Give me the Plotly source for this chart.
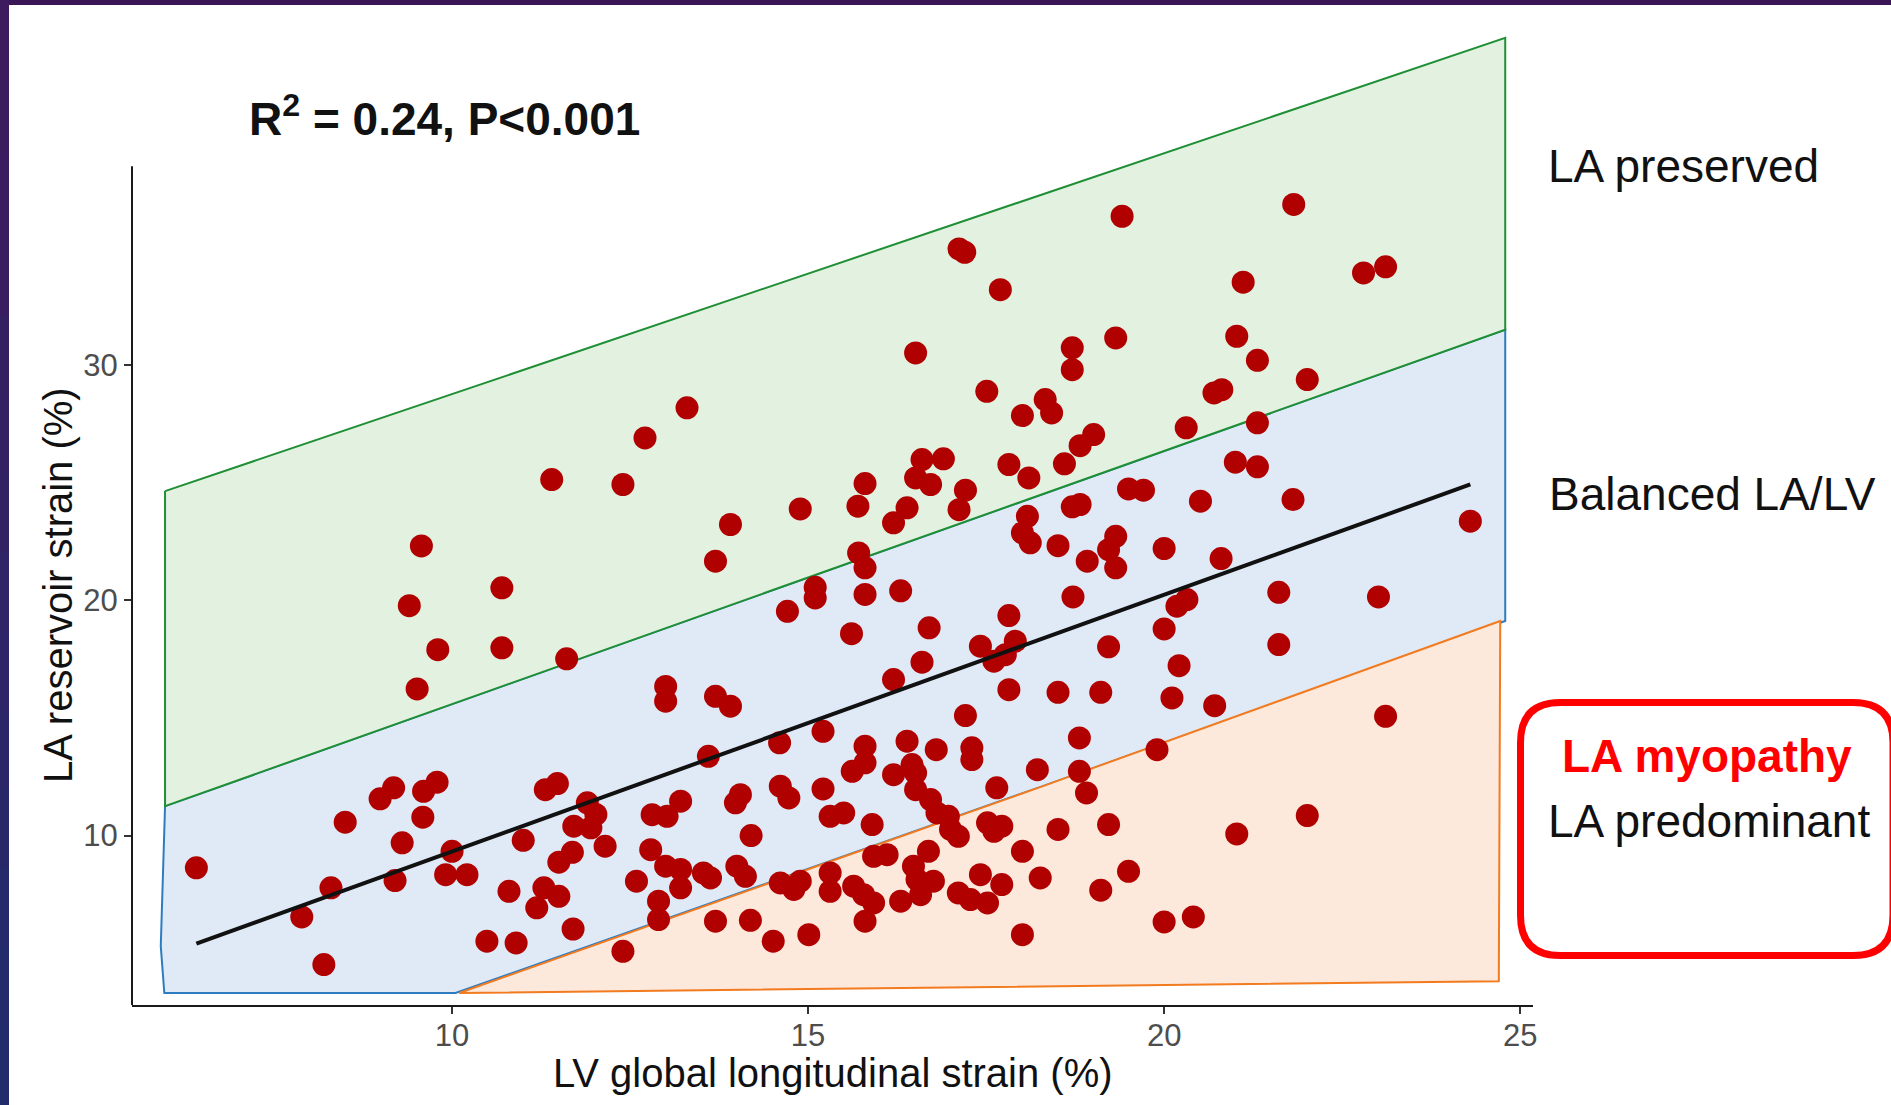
import plotly.graph_objects as go

# ---- data: LV global longitudinal strain (%) vs LA reservoir strain (%) ----
lv_gls = [
    17.12, 17.20, 17.70, 16.51, 17.51, 18.01, 13.30, 12.71, 12.40, 13.91,
    13.70, 14.89, 15.80, 15.70, 16.60, 16.90, 16.51, 16.72, 17.21, 17.12,
    16.39, 16.20, 17.82, 18.10, 18.08, 18.01, 18.12, 15.71, 15.80,
    19.41, 21.82, 22.80, 23.11, 21.11, 19.32, 18.71, 18.71, 21.02, 21.31,
    22.01, 20.70, 20.81, 18.33, 18.42, 21.31, 20.31, 19.01, 18.82, 18.60,
    21.00, 21.31, 19.50, 19.71, 18.71, 18.82, 20.51, 21.81, 24.30, 18.51,
    18.92, 19.32, 19.22, 19.32, 20.00, 20.80,
    9.57, 11.40,
    9.40, 10.70, 9.80, 10.70, 11.61, 9.51, 8.99, 9.18, 9.60, 9.79,
    11.31, 11.48, 8.50, 9.59, 9.30, 11.90, 12.02, 11.71, 11.95, 12.15,
    6.41, 10.00, 9.91, 10.21, 9.20, 8.30, 11.00, 11.50, 11.69, 10.80,
    11.29, 11.50, 11.19, 7.89, 10.49, 10.90, 11.70, 8.20,
    15.10, 15.10, 15.80, 16.30, 14.71, 15.61, 16.70, 17.82, 17.42, 17.61,
    17.77, 17.91, 16.60, 16.20, 17.82, 13.00, 13.00, 13.70, 13.91, 17.21,
    15.21, 14.60, 13.60, 15.80, 15.80, 15.62, 16.39, 16.80, 17.30, 17.30,
    16.20, 16.46, 16.51, 16.51, 16.72, 16.81, 18.22, 17.65, 14.05, 13.98,
    14.61, 14.73, 15.21, 15.31, 15.50, 15.90, 13.21, 13.02, 12.81, 14.20,
    12.79, 13.00, 13.21, 13.21, 13.53, 13.63, 14.00, 14.12, 12.59, 12.90,
    12.90, 13.70, 14.19, 14.51, 15.01, 12.40, 14.61, 14.80, 14.89, 15.31,
    15.31, 15.64, 15.78, 15.92, 15.80, 15.92, 16.11, 16.69, 16.48, 16.53,
    16.76, 16.58, 16.30, 17.00, 17.11, 16.97, 17.52, 17.61, 17.72, 18.01,
    17.11, 17.28, 17.42, 17.52, 17.72, 18.01,
    18.72, 20.18, 20.32, 21.61, 23.01, 20.00, 19.22, 21.61, 20.21, 18.51,
    19.11, 20.11, 20.71, 18.81, 19.90, 23.11, 18.81, 18.91, 18.51, 19.22,
    22.01, 21.02, 18.26, 19.50, 19.11, 20.00, 20.41,
]
la_reservoir = [
    34.93, 34.79, 33.20, 30.51, 28.88, 27.85, 28.18, 26.90, 24.92, 23.22,
    21.66, 23.88, 24.96, 24.00, 25.98, 26.01, 25.20, 24.92, 24.68, 23.85,
    23.93, 23.29, 25.77, 25.20, 23.57, 22.86, 22.44, 22.01, 21.38,
    36.32, 36.82, 33.91, 34.17, 33.52, 31.15, 30.73, 29.80, 31.22, 30.20,
    29.38, 28.81, 28.95, 28.53, 27.96, 27.54, 27.33, 27.04, 26.57, 25.80,
    25.87, 25.67, 24.73, 24.68, 23.97, 24.07, 24.21, 24.28, 23.36, 22.32,
    21.66, 22.72, 22.15, 21.38, 22.20, 21.77,
    22.31, 25.13,
    19.77, 20.53, 17.90, 17.98, 17.51, 16.23, 11.56, 12.03, 11.88, 12.27,
    11.95, 12.21, 10.57, 10.78, 9.69, 11.39, 10.90, 10.40, 10.33, 9.55,
    8.63, 9.33, 8.34, 8.34, 8.09, 7.78, 9.80, 8.87, 9.29, 7.63,
    7.78, 7.42, 6.93, 6.54, 5.51, 5.44, 6.03, 4.52,
    20.55, 20.10, 20.25, 20.40, 19.53, 18.58, 18.83, 19.35, 18.05, 17.41,
    17.69, 18.26, 17.37, 16.63, 16.20, 16.34, 15.71, 15.92, 15.50, 15.10,
    14.43, 13.94, 13.37, 13.80, 13.09, 12.73, 14.01, 13.65, 13.73, 13.23,
    12.59, 13.02, 12.66, 11.95, 11.53, 10.96, 12.80, 12.03, 11.74, 11.39,
    12.10, 11.60, 11.98, 10.82, 10.96, 10.47, 11.46, 10.82, 10.89, 10.00,
    9.40, 8.70, 8.56, 7.78, 8.41, 8.20, 8.70, 8.27, 8.06, 7.21,
    6.43, 6.36, 6.40, 5.51, 5.79, 5.08, 7.99, 7.71, 8.06, 8.41,
    7.63, 7.85, 7.49, 7.14, 6.36, 9.12, 9.19, 9.33, 8.70, 8.13,
    8.06, 7.49, 7.21, 10.26, 9.97, 10.82, 10.54, 10.18, 10.40, 9.33,
    7.56, 7.28, 8.34, 7.14, 7.92, 5.79,
    20.14, 19.75, 20.03, 20.34, 20.14, 18.78, 18.02, 18.12, 17.22, 16.09,
    16.09, 15.85, 15.52, 14.15, 13.65, 15.07, 12.73, 11.81, 10.26, 10.47,
    10.85, 10.07, 8.20, 8.48, 7.68, 6.33, 6.54,
]

# linear fit LA = a + b * LV
fit_intercept = -1.58
fit_slope = 1.0906

# phenotype bands (polygon vertices in data units)
preserved_x = [5.97, 24.79, 24.79, 5.97]
preserved_y = [24.64, 43.90, 31.50, 11.25]
balanced_x = [5.97, 24.79, 24.79, 18.26, 10.05, 5.96, 5.91]
balanced_y = [11.25, 31.50, 19.12, 12.06, 3.31, 3.31, 5.30]
la_dom_x = [10.10, 18.26, 24.72, 24.70]
la_dom_y = [3.31, 12.06, 19.12, 3.81]

x_ticks = [10, 15, 20, 25]
y_ticks = [10, 20, 30]

# ---- page geometry (pixels) ----
W_PAGE, H_PAGE = 1891, 1105
PL, PR, PT, PB = 132, 1533, 0, 1005
x_range = [5.506, 25.18]
y_range = [2.80, 45.51]
y_axis_top = 38.44


def px(xp):
    return (xp - PL) / (PR - PL)


def py(yp):
    return (PB - yp) / (PB - PT)


FONT = "Liberation Sans, Arial, Helvetica, sans-serif"

fig = go.Figure()

fig.add_trace(go.Scatter(
    x=balanced_x + [balanced_x[0]], y=balanced_y + [balanced_y[0]],
    mode="lines", fill="toself", fillcolor="#DFEAF6",
    line=dict(color="#2E7CC0", width=2), hoverinfo="skip", showlegend=False))
fig.add_trace(go.Scatter(
    x=preserved_x + [preserved_x[0]], y=preserved_y + [preserved_y[0]],
    mode="lines", fill="toself", fillcolor="#E3F1E1",
    line=dict(color="#1F8F35", width=2), hoverinfo="skip", showlegend=False))
fig.add_trace(go.Scatter(
    x=la_dom_x + [la_dom_x[0]], y=la_dom_y + [la_dom_y[0]],
    mode="lines", fill="toself", fillcolor="#FDE8DC",
    line=dict(color="#F27A1F", width=2), hoverinfo="skip", showlegend=False))

fig.add_trace(go.Scatter(
    x=lv_gls, y=la_reservoir, mode="markers",
    marker=dict(color="#B00000", size=23, line=dict(width=0)),
    showlegend=False))

fit_x = [min(lv_gls), max(lv_gls)]
fit_y = [fit_intercept + fit_slope * v for v in fit_x]
fig.add_trace(go.Scatter(
    x=fit_x, y=fit_y, mode="lines",
    line=dict(color="#111111", width=4), showlegend=False))

shapes = []
# y axis line (panel height only)
shapes.append(dict(type="line", xref="paper", yref="paper",
                   x0=0, x1=0, y0=0,
                   y1=(y_axis_top - y_range[0]) / (y_range[1] - y_range[0]),
                   line=dict(color="#1a1a1a", width=2)))

# red rounded frame around the LA myopathy label
bx0, bx1, by0, by1, r = 1520.5, 1893, 702.5, 955.5, 40
path = (f"M {px(bx0 + r)},{py(by0)} L {px(bx1 - r)},{py(by0)} "
        f"Q {px(bx1)},{py(by0)} {px(bx1)},{py(by0 + r)} "
        f"L {px(bx1)},{py(by1 - r)} Q {px(bx1)},{py(by1)} {px(bx1 - r)},{py(by1)} "
        f"L {px(bx0 + r)},{py(by1)} Q {px(bx0)},{py(by1)} {px(bx0)},{py(by1 - r)} "
        f"L {px(bx0)},{py(by0 + r)} Q {px(bx0)},{py(by0)} {px(bx0 + r)},{py(by0)} Z")
shapes.append(dict(type="path", xref="paper", yref="paper", path=path,
                   line=dict(color="#FF0000", width=7), fillcolor="rgba(0,0,0,0)"))

# slide frame: top strip and left gradient strip
shapes.append(dict(type="rect", xref="paper", yref="paper", layer="above",
                   x0=px(0), x1=px(W_PAGE), y0=py(0), y1=py(5),
                   fillcolor="#3A1656", line=dict(width=0)))
c0, c1 = (0x3E, 0x1A, 0x5E), (0x22, 0x2C, 0x6C)
n_seg = 14
for i in range(n_seg):
    t = i / (n_seg - 1)
    col = "#%02X%02X%02X" % tuple(round(a + (b - a) * t) for a, b in zip(c0, c1))
    shapes.append(dict(type="rect", xref="paper", yref="paper", layer="above",
                       x0=px(0), x1=px(9),
                       y0=py(H_PAGE * i / n_seg), y1=py(H_PAGE * (i + 1) / n_seg + 1),
                       fillcolor=col, line=dict(width=0)))

annotations = [
    dict(text="<b>R<sup>2</sup> = 0.24, P&lt;0.001</b>", x=px(247), y=py(116),
         xanchor="left", yanchor="middle", font=dict(size=46, color="#111111")),
    dict(text="LA preserved", x=px(1546), y=py(166),
         xanchor="left", yanchor="middle", font=dict(size=46, color="#111111")),
    dict(text="Balanced LA/LV", x=px(1547), y=py(494),
         xanchor="left", yanchor="middle", font=dict(size=46, color="#111111")),
    dict(text="<b>LA myopathy</b>", x=px(1707), y=py(756),
         xanchor="center", yanchor="middle", font=dict(size=46, color="#FF0000")),
    dict(text="LA predominant", x=px(1546), y=py(821),
         xanchor="left", yanchor="middle", font=dict(size=46, color="#111111")),
    dict(text="LV global longitudinal strain (%)", x=px(833), y=py(1073),
         xanchor="center", yanchor="middle", font=dict(size=40, color="#111111")),
    dict(text="LA reservoir strain (%)", x=px(58), y=py(585), textangle=-90,
         xanchor="center", yanchor="middle", font=dict(size=40, color="#111111")),
]
for a in annotations:
    a.update(xref="paper", yref="paper", showarrow=False)

fig.update_layout(
    width=W_PAGE, height=H_PAGE,
    margin=dict(l=PL, r=W_PAGE - PR, t=PT, b=H_PAGE - PB, pad=0),
    paper_bgcolor="white", plot_bgcolor="white",
    font=dict(family=FONT),
    shapes=shapes, annotations=annotations, showlegend=False,
    xaxis=dict(range=x_range, tickvals=x_ticks, ticks="outside", ticklen=7,
               tickwidth=2, tickcolor="#333333", showgrid=False, zeroline=False,
               showline=True, linecolor="#1a1a1a", linewidth=2,
               ticklabelstandoff=-5,
               tickfont=dict(size=31, color="#4D4D4D", family=FONT)),
    yaxis=dict(range=y_range, tickvals=y_ticks, ticks="outside", ticklen=7,
               tickwidth=2, tickcolor="#333333", showgrid=False, zeroline=False,
               showline=False,
               tickfont=dict(size=31, color="#4D4D4D", family=FONT)),
)

fig.write_html("out.html")
